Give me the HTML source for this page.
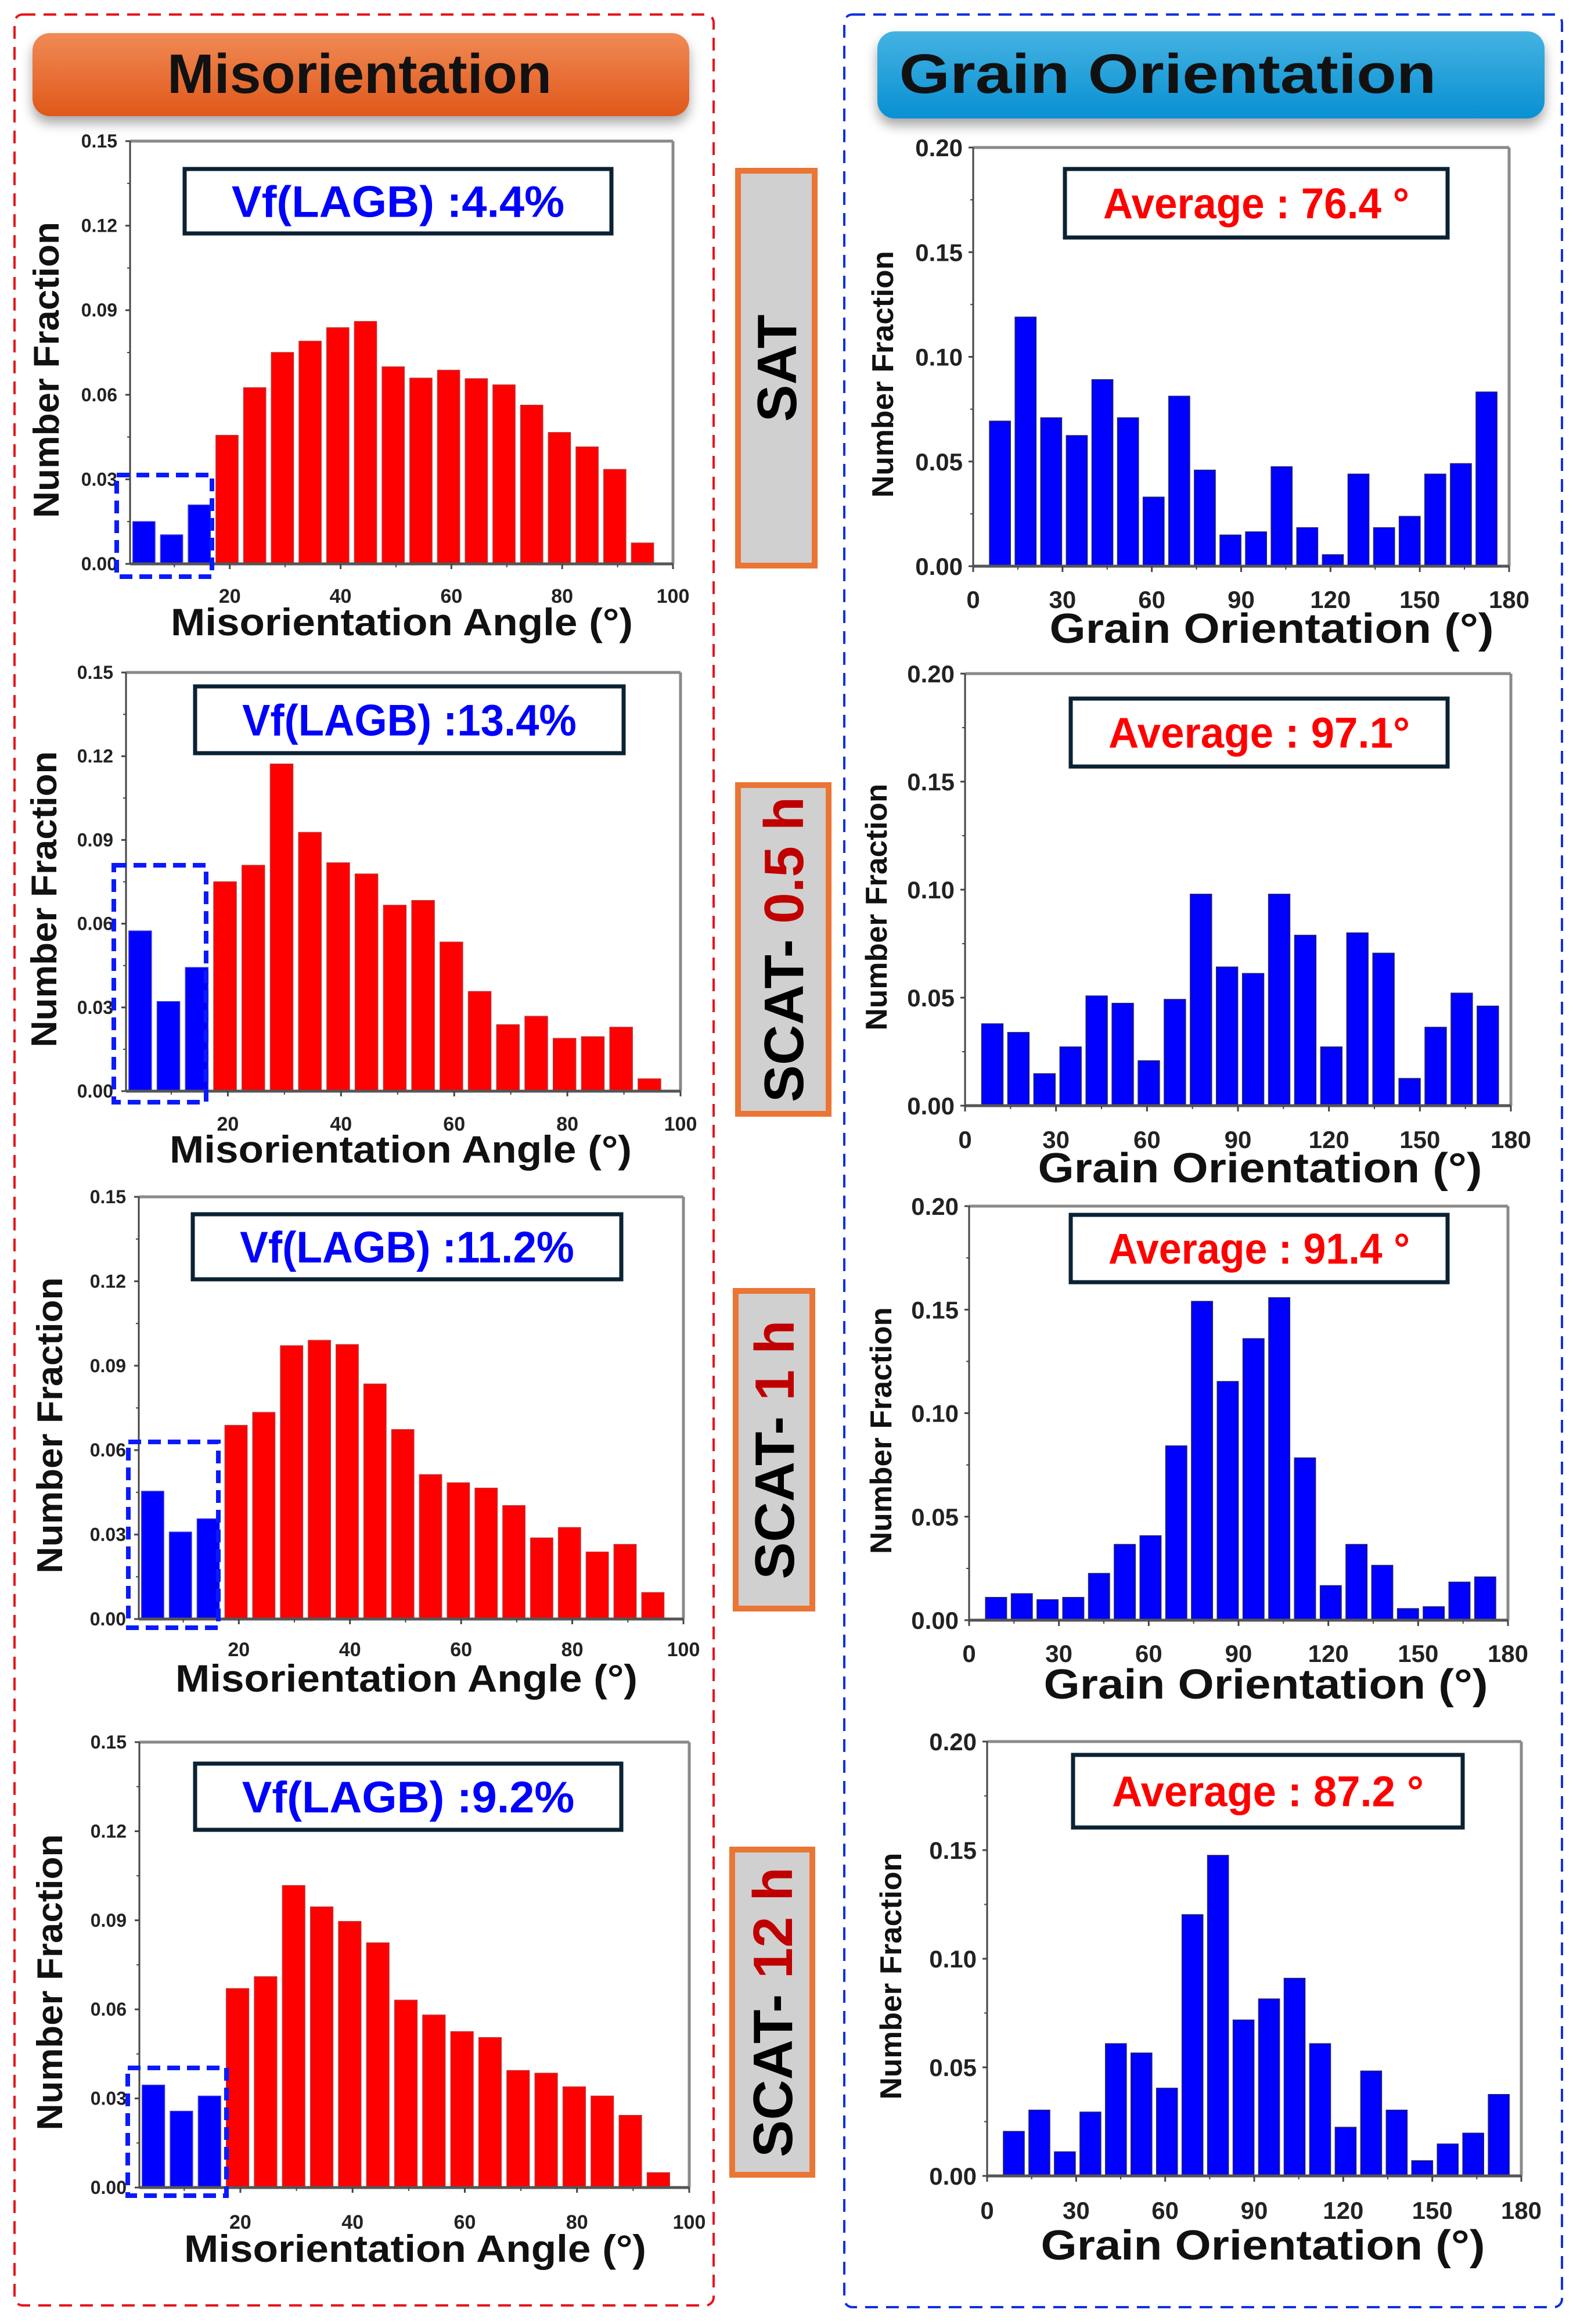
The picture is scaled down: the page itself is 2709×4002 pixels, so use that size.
<!DOCTYPE html>
<html><head><meta charset="utf-8">
<style>
html,body{margin:0;padding:0;background:#fff;}
svg{display:block;}
text{font-family:"Liberation Sans",sans-serif;}
.tk{font-family:"Liberation Sans Narrow","Liberation Sans",sans-serif;font-weight:bold;}
</style></head>
<body>
<svg id="fig" width="2709" height="4002" viewBox="0 0 2709 4002" xmlns="http://www.w3.org/2000/svg">
<defs>
<linearGradient id="gOr" x1="0" y1="0" x2="0" y2="1"><stop offset="0" stop-color="#f08a55"/><stop offset="1" stop-color="#e0581a"/></linearGradient>
<linearGradient id="gBl" x1="0" y1="0" x2="0" y2="1"><stop offset="0" stop-color="#45b2e2"/><stop offset="1" stop-color="#0890d2"/></linearGradient>
<filter id="sh" x="-5%" y="-20%" width="110%" height="160%"><feDropShadow dx="0" dy="12" stdDeviation="10" flood-color="#000" flood-opacity="0.35"/></filter>
</defs>
<rect x="25" y="25" width="1204" height="3945" rx="14" fill="none" stroke="#e8141c" stroke-width="4" stroke-dasharray="22,14"/>
<rect x="1454" y="25" width="1236" height="3948" rx="14" fill="none" stroke="#1030e0" stroke-width="4" stroke-dasharray="22,14"/>
<g>
<rect x="56" y="57" width="1131" height="143" rx="30" fill="url(#gOr)" filter="url(#sh)"/>
<text x="619" y="160" text-anchor="middle" font-size="96" font-weight="bold" fill="#111" textLength="662" lengthAdjust="spacingAndGlyphs">Misorientation</text>
</g>
<g>
<rect x="1511" y="54" width="1149" height="150" rx="30" fill="url(#gBl)" filter="url(#sh)"/>
<text x="2011" y="160" text-anchor="middle" font-size="96" font-weight="bold" fill="#111" textLength="925" lengthAdjust="spacingAndGlyphs">Grain Orientation</text>
</g>
<g id="labels"></g>
<g id="charts"></g>
</svg>
<script>
// ---- Data ----
const misoCenters = [4.5,9.5,14.5,19.5,24.5,29.5,34.5,39.5,44.5,49.5,54.5,59.5,64.5,69.5,74.5,79.5,84.5,89.5,94.5];
const misoTicks = [20,40,60,80,100];
const misoYTicks = ["0.00","0.03","0.06","0.09","0.12","0.15"];
const lagbCount = 3;
const misoSAT = [0.015,0.0103,0.0209,0.0456,0.0625,0.075,0.079,0.0838,0.086,0.0699,0.0659,0.0687,0.0657,0.0635,0.0563,0.0466,0.0415,0.0335,0.0074];
const miso05 = [0.0574,0.0321,0.0443,0.075,0.0809,0.1172,0.0927,0.0818,0.0778,0.0666,0.0683,0.0534,0.0357,0.0238,0.0268,0.0189,0.0195,0.0229,0.0044];
const miso1 = [0.0454,0.0309,0.0356,0.0688,0.0734,0.0971,0.099,0.0975,0.0835,0.0673,0.0513,0.0484,0.0465,0.0403,0.0288,0.0325,0.0238,0.0265,0.0094];
const miso12 = [0.0345,0.0257,0.0308,0.067,0.071,0.1017,0.0945,0.0896,0.0824,0.0631,0.0581,0.0525,0.0505,0.0394,0.0385,0.0339,0.0308,0.0243,0.005];
const grainCenters = [9,17.6,26.2,34.8,43.4,52,60.6,69.2,77.8,86.4,95,103.6,112.2,120.8,129.4,138,146.6,155.2,163.8,172.4];
const grainTicks = [0,30,60,90,120,150,180];
const grainYTicks = ["0.00","0.05","0.10","0.15","0.20"];
const grainSAT = [0.0693,0.119,0.0709,0.0624,0.0891,0.0709,0.033,0.0812,0.0459,0.0149,0.0164,0.0475,0.0184,0.0055,0.044,0.0184,0.0238,0.044,0.049,0.0832];
const grain05 = [0.0379,0.0339,0.0148,0.0272,0.0508,0.0474,0.0208,0.0492,0.0979,0.0642,0.0612,0.0979,0.0789,0.0272,0.080,0.0706,0.0126,0.0363,0.0521,0.0461];
const grain1 = [0.011,0.0128,0.0099,0.011,0.0226,0.0366,0.0408,0.0842,0.154,0.1153,0.136,0.1558,0.0784,0.0167,0.0366,0.0265,0.0056,0.0065,0.0184,0.0209];
const grain12 = [0.0205,0.0303,0.0111,0.0294,0.0609,0.0566,0.0404,0.1203,0.1476,0.0718,0.0815,0.091,0.0609,0.0224,0.0483,0.0303,0.007,0.0147,0.0197,0.0375];
const lagbLabels = ["Vf(LAGB) :4.4%","Vf(LAGB) :13.4%","Vf(LAGB) :11.2%","Vf(LAGB) :9.2%"];
const avgLabels = ["Average : 76.4 °","Average : 97.1°","Average : 91.4 °","Average : 87.2 °"];
const conditions = ["SAT","0.5 h","1 h","12 h"];

const NS="http://www.w3.org/2000/svg";
function mk(tag,attrs,parent){const e=document.createElementNS(NS,tag);for(const k in attrs)e.setAttribute(k,attrs[k]);parent.appendChild(e);return e;}
const chartsG=document.getElementById('charts');
const labelsG=document.getElementById('labels');

const leftLayout=[
 {l:224,r:1159,t:243,b:971,box:[318,291,735,111],dash:[201,818,164,175],tickY:1026,titleY:1072,titleX:692,yTitleX:79},
 {l:217,r:1172,t:1158,b:1879,box:[336,1182,738,115],dash:[196,1490,159,408],tickY:1935,titleY:1980,titleX:690,yTitleX:75},
 {l:239,r:1177,t:2061,b:2788,box:[332,2091,738,112],dash:[221,2483,155,320],tickY:2840,titleY:2891,titleX:700,yTitleX:85},
 {l:240,r:1187,t:3000,b:3767,box:[336,3037,734,114],dash:[220,3561,170,220],tickY:3826,titleY:3873,titleX:715,yTitleX:85}];
const rightLayout=[
 {l:1676,r:2599,t:254,b:975,box:[1834,291,659,118],tickY:1032,titleY:1082,titleX:2190,yTitleX:1521},
 {l:1662,r:2602,t:1160,b:1904,box:[1844,1203,649,117],tickY:1962,titleY:2011,titleX:2170,yTitleX:1510},
 {l:1669,r:2597,t:2077,b:2790,box:[1844,2092,649,116],tickY:2847,titleY:2900,titleX:2180,yTitleX:1518},
 {l:1700,r:2620,t:2999,b:3747,box:[1848,3022,671,125],tickY:3806,titleY:3866,titleX:2175,yTitleX:1535}];
const condBoxes=[[1266,289,142,690],[1266,1347,166,576],[1262,2218,142,557],[1256,3180,148,570]];
const misoSeries=[misoSAT,miso05,miso1,miso12];
const grainSeries=[grainSAT,grain05,grain1,grain12];

function frame(g,L){
  mk('rect',{x:L.l,y:L.t,width:L.r-L.l,height:L.b-L.t,fill:'#fff'},g);
  mk('line',{x1:L.l,y1:L.t,x2:L.r,y2:L.t,stroke:'#8a8a8a','stroke-width':5},g);
  mk('line',{x1:L.r,y1:L.t,x2:L.r,y2:L.b,stroke:'#8a8a8a','stroke-width':5},g);
}
function axes(g,L){
  mk('line',{x1:L.l,y1:L.t,x2:L.l,y2:L.b,stroke:'#444','stroke-width':3},g);
  mk('line',{x1:L.l,y1:L.b,x2:L.r,y2:L.b,stroke:'#555','stroke-width':5},g);
}

for(let i=0;i<4;i++){
  const L=leftLayout[i], vals=misoSeries[i];
  const g=mk('g',{},chartsG);
  
  
  const x0=2,x1=100,ymax=0.15;
  const xs=v=>L.l+(v-x0)/(x1-x0)*(L.r-L.l);
  const ys=v=>L.b-v/ymax*(L.b-L.t);
  frame(g,L);
  const bw=(xs(5)-xs(0))*0.8;
  for(let k=0;k<vals.length;k++){
    const b=mk('rect',{x:xs(misoCenters[k])-bw/2,y:ys(vals[k]),width:bw,height:L.b-ys(vals[k]),fill:k<lagbCount?'#0000ff':'#ff0000',stroke:k<lagbCount?'#3a3ad8':'#c43030','stroke-width':1.5},g);
    
    
  }
  axes(g,L);
  for(let k=0;k<misoYTicks.length;k++){
    const v=parseFloat(misoYTicks[k]), y=ys(v);
    mk('line',{x1:L.l-8,y1:y,x2:L.l,y2:y,stroke:'#444','stroke-width':3},g);
    if(k<misoYTicks.length-1) mk('line',{x1:L.l-5,y1:ys(v+0.015),x2:L.l,y2:ys(v+0.015),stroke:'#444','stroke-width':2},g);
    const t=mk('text',{x:L.l-22,y:y+11,'text-anchor':'end','font-size':32,class:'tk',fill:'#222'},g);
    t.textContent=misoYTicks[k];
    
    
  }
  for(let k=0;k<misoTicks.length;k++){
    const x=xs(misoTicks[k]);
    mk('line',{x1:x,y1:L.b,x2:x,y2:L.b+9,stroke:'#444','stroke-width':3},g);
    mk('line',{x1:xs(misoTicks[k]-10),y1:L.b,x2:xs(misoTicks[k]-10),y2:L.b+6,stroke:'#444','stroke-width':2},g);
    const t=mk('text',{x:x,y:L.tickY+12,'text-anchor':'middle','font-size':34,class:'tk',fill:'#222'},g);
    t.textContent=misoTicks[k];
    
    
  }
  const d=L.dash;
  const db=mk('rect',{x:d[0],y:d[1],width:d[2],height:d[3],fill:'none',stroke:'#0a1aff','stroke-width':8,'stroke-dasharray':'22,12'},g);
  
  
  const bx=L.box;
  const bg=mk('g',{},g);
  
  
  mk('rect',{x:bx[0],y:bx[1],width:bx[2],height:bx[3],fill:'#fff',stroke:'#0b2233','stroke-width':7},bg);
  const lt=mk('text',{x:bx[0]+bx[2]/2,y:bx[1]+bx[3]/2+27,'text-anchor':'middle','font-size':76,'font-weight':'bold',fill:'#0000ff',textLength:bx[2]*0.78,lengthAdjust:'spacingAndGlyphs'},bg);
  lt.textContent=lagbLabels[i];
  const xt=mk('text',{x:L.titleX,y:L.titleY+22,'text-anchor':'middle','font-size':66,'font-weight':'bold',fill:'#111',textLength:796,lengthAdjust:'spacingAndGlyphs'},g);
  xt.textContent='Misorientation Angle (°)';
  
  
  const yc=(L.t+L.b)/2+30;
  const yt=mk('text',{x:L.yTitleX+22,y:yc,'text-anchor':'middle','font-size':62,'font-weight':'bold',fill:'#111',textLength:510,lengthAdjust:'spacingAndGlyphs',transform:'rotate(-90 '+(L.yTitleX+22)+' '+yc+')'},g);
  yt.textContent='Number Fraction';
  
  
}

for(let i=0;i<4;i++){
  const L=rightLayout[i], vals=grainSeries[i];
  const g=mk('g',{},chartsG);
  
  
  const x0=0,x1=180,ymax=0.2;
  const xs=v=>L.l+(v-x0)/(x1-x0)*(L.r-L.l);
  const ys=v=>L.b-v/ymax*(L.b-L.t);
  frame(g,L);
  const bw=(xs(8.6)-xs(0))*0.82;
  for(let k=0;k<vals.length;k++){
    const b=mk('rect',{x:xs(grainCenters[k])-bw/2,y:ys(vals[k]),width:bw,height:L.b-ys(vals[k]),fill:'#0000ff',stroke:'#222266','stroke-width':1.5},g);
    
    
  }
  axes(g,L);
  for(let k=0;k<grainYTicks.length;k++){
    const v=parseFloat(grainYTicks[k]), y=ys(v);
    mk('line',{x1:L.l-8,y1:y,x2:L.l,y2:y,stroke:'#444','stroke-width':3},g);
    if(k<grainYTicks.length-1) mk('line',{x1:L.l-5,y1:ys(v+0.025),x2:L.l,y2:ys(v+0.025),stroke:'#444','stroke-width':2},g);
    const t=mk('text',{x:L.l-18,y:y+15,'text-anchor':'end','font-size':42,class:'tk',fill:'#222'},g);
    t.textContent=grainYTicks[k];
    
    
  }
  for(let k=0;k<grainTicks.length;k++){
    const x=xs(grainTicks[k]);
    mk('line',{x1:x,y1:L.b,x2:x,y2:L.b+10,stroke:'#444','stroke-width':3},g);
    if(k>0) mk('line',{x1:xs(grainTicks[k]-15),y1:L.b,x2:xs(grainTicks[k]-15),y2:L.b+6,stroke:'#444','stroke-width':2},g);
    const t=mk('text',{x:x,y:L.tickY+15,'text-anchor':'middle','font-size':42,class:'tk',fill:'#222'},g);
    t.textContent=grainTicks[k];
    
    
  }
  const bx=L.box;
  const bg=mk('g',{},g);
  
  
  mk('rect',{x:bx[0],y:bx[1],width:bx[2],height:bx[3],fill:'#fff',stroke:'#0b2233','stroke-width':7},bg);
  const lt=mk('text',{x:bx[0]+bx[2]/2,y:bx[1]+bx[3]/2+26,'text-anchor':'middle','font-size':74,'font-weight':'bold',fill:'#ff0000',textLength:bx[2]*0.8,lengthAdjust:'spacingAndGlyphs'},bg);
  lt.textContent=avgLabels[i];
  const xt=mk('text',{x:L.titleX,y:L.titleY+25,'text-anchor':'middle','font-size':72,'font-weight':'bold',fill:'#111',textLength:765,lengthAdjust:'spacingAndGlyphs'},g);
  xt.textContent='Grain Orientation (°)';
  
  
  const yc=(L.t+L.b)/2+30;
  const yt=mk('text',{x:L.yTitleX+17,y:yc,'text-anchor':'middle','font-size':52,'font-weight':'bold',fill:'#111',textLength:425,lengthAdjust:'spacingAndGlyphs',transform:'rotate(-90 '+(L.yTitleX+17)+' '+yc+')'},g);
  yt.textContent='Number Fraction';
  
  
}

for(let i=0;i<4;i++){
  const b=condBoxes[i];
  const g=mk('g',{},labelsG);
  
  
  mk('rect',{x:b[0]+5,y:b[1]+5,width:b[2]-10,height:b[3]-10,fill:'#d0d0d0',stroke:'#ea7535','stroke-width':10},g);
  const cx=b[0]+b[2]/2+34, cy=b[1]+b[3]/2;
  const t=mk('text',{x:cx,y:cy,'text-anchor':'middle','font-size':96,'font-weight':'bold',fill:'#000',transform:'rotate(-90 '+cx+' '+cy+')'},g);
  if(i===0){t.textContent=conditions[i];}
  else{
    const s1=mk('tspan',{},t);s1.textContent='SCAT- ';
    const s2=mk('tspan',{fill:'#c00000'},t);s2.textContent=conditions[i];
  }
}
</script>
</body></html>
